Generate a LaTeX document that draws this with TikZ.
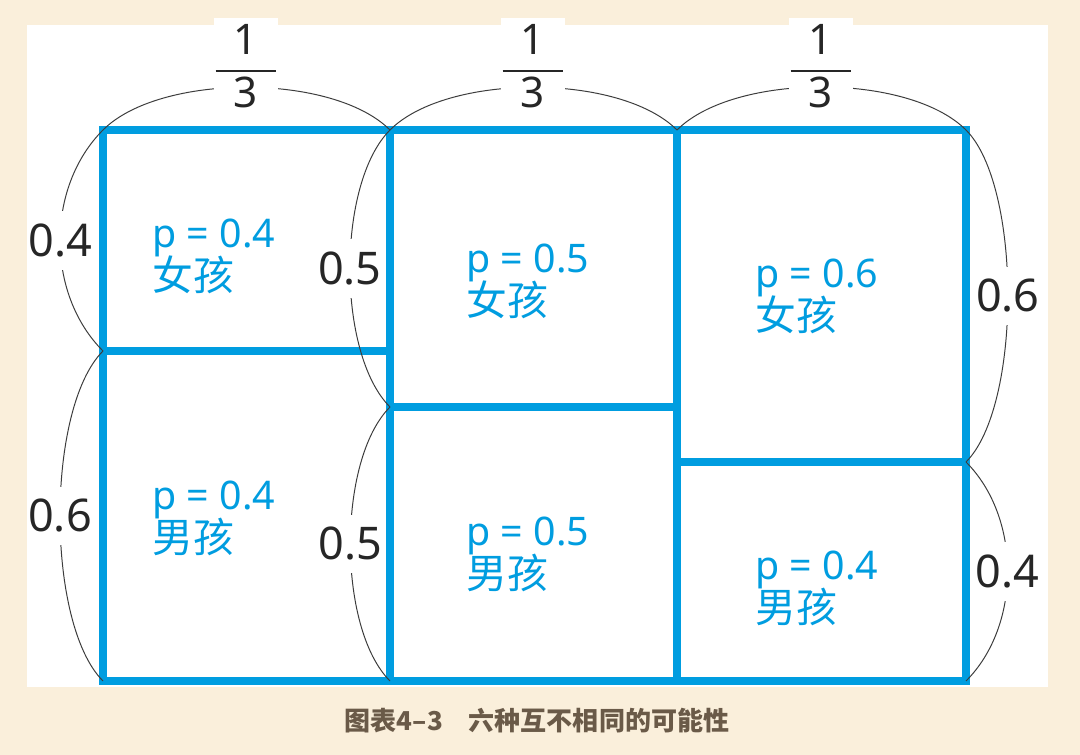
\documentclass[tikz,border=0pt]{standalone}
\usepackage{fontspec}
\setmainfont{Noto Sans}
\newfontfamily\cjk{Noto Sans CJK SC}
\definecolor{cellblue}{RGB}{0,157,224}
\definecolor{paper}{RGB}{250,239,219}
\definecolor{captionbrown}{RGB}{106,90,72}
\definecolor{arcgray}{RGB}{60,60,60}
\newcommand{\cn}[1]{{\cjk\fontsize{29}{30.5}\selectfont #1}}
\newcommand{\third}{\setlength\arrayrulewidth{1.3pt}%
    \begin{tabular}{@{\hspace{13pt}}c@{\hspace{13pt}}}1\\\hline 3\end{tabular}}
\setlength{\lineskiplimit}{-20pt}

\begin{document}
\begin{tikzpicture}[
    x=0.025cm, y=-0.025cm,
    grid/.style={draw=cellblue, line width=6pt},
    brace/.style={draw=arcgray, line width=0.7pt},
    share/.style={fill=white, inner sep=1pt, text=black!85,
        font=\fontsize{32}{36}\selectfont},
    topshare/.style={share, inner sep=1pt,
        font=\fontsize{30}{36}\selectfont},
    cell/.style={anchor=west, align=left, inner sep=0pt, text=cellblue,
        font=\fontsize{28}{30.5}\selectfont}
]
    % page and panel
    \fill[paper] (0,0) rectangle (1080,755);
    \fill[white] (27,25) rectangle (1048,687);
    \useasboundingbox (0,0) rectangle (1080,755);

    % grid corners
    \coordinate (a0) at (103,130);
    \coordinate (a1) at (390,130);
    \coordinate (a2) at (677,130);
    \coordinate (a3) at (966,130);
    \coordinate (b0) at (103,681);
    \coordinate (b1) at (390,681);
    \coordinate (b2) at (677,681);
    \coordinate (b3) at (966,681);
    \coordinate (s0) at (103,351);
    \coordinate (s1) at (390,351);
    \coordinate (u1) at (390,407);
    \coordinate (u2) at (677,407);
    \coordinate (v2) at (677,462);
    \coordinate (v3) at (966,462);

    % blue cells
    \draw[grid] (a0) rectangle (b3);
    \draw[grid] (a1) -- (b1);
    \draw[grid] (a2) -- (b2);
    \draw[grid] (s0) -- (s1);
    \draw[grid] (u1) -- (u2);
    \draw[grid] (v2) -- (v3);

    % braces on top
    \draw[brace] (a0) to[bend left=45, looseness=0.72] (a1);
    \draw[brace] (a1) to[bend left=45, looseness=0.72] (a2);
    \draw[brace] (a2) to[bend left=45, looseness=0.72] (a3);
    \node[topshare] (w1) at (246,71) {\third};
    \node[topshare] (w2) at (533,71) {\third};
    \node[topshare] (w3) at (821,71) {\third};

    % braces on the left
    \draw[brace] (a0) to[bend right=45, looseness=0.94]
        node[share, inner ysep=9pt] (girl1) {0.4} (s0);
    \draw[brace] (s0) to[bend right=45, looseness=0.63]
        node[share, inner ysep=9pt] (boy1) {0.6} (b0);

    % braces between first and second column
    \draw[brace] (a1) to[bend right=45, looseness=0.70]
        node[share, inner ysep=9pt] (girl2) {0.5} (u1);
    \draw[brace] (u1) to[bend right=45, looseness=0.70]
        node[share, inner ysep=9pt] (boy2) {0.5} (b1);

    % braces on the right
    \draw[brace] (a3) to[bend left=45, looseness=0.61]
        node[share, inner ysep=9pt] (girl3) {0.6} (v3);
    \draw[brace] (v3) to[bend left=45, looseness=0.92]
        node[share, inner ysep=9pt] (boy3) {0.4} (b3);

    % cell texts
    \node[cell] (c1g) at (152,256) {p = 0.4\\\cn{女孩}};
    \node[cell] (c1b) at (152,518) {p = 0.4\\\cn{男孩}};
    \node[cell] (c2g) at (466,281) {p = 0.5\\\cn{女孩}};
    \node[cell] (c2b) at (466,554) {p = 0.5\\\cn{男孩}};
    \node[cell] (c3g) at (755,296) {p = 0.6\\\cn{女孩}};
    \node[cell] (c3b) at (755,588) {p = 0.4\\\cn{男孩}};

    % caption
    \node[text=captionbrown, font=\cjk\bfseries\fontsize{18.5}{22}\selectfont]
        (caption) at (537,721) {图表4–3\hspace{1em}六种互不相同的可能性};
\end{tikzpicture}
\end{document}
